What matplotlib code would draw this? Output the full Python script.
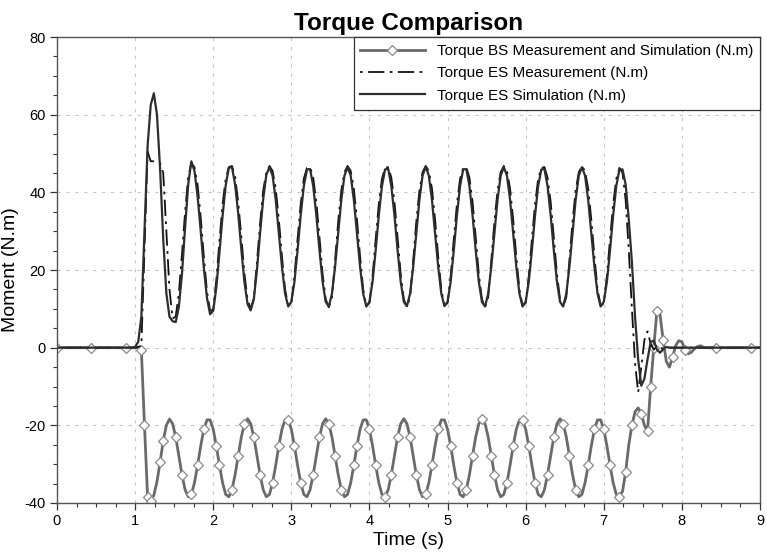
import numpy as np
import matplotlib
matplotlib.use("Agg")
import matplotlib.pyplot as plt
from matplotlib.ticker import MultipleLocator

plt.rcParams['font.family'] = ['Liberation Sans', 'DejaVu Sans']
plt.rcParams['axes.unicode_minus'] = False

# sample clock of the recordings (s), one row of values per second
time_s = np.arange(226) * 0.04

# Torque ES Simulation (N.m)
es_sim = [
    0, 0, 0, 0, 0, 0, 0, 0, 0, 0, 0, 0, 0, 0, 0, 0, 0, 0, 0, 0, 0, 0, 0, 0, 0,
    0.2, 1.5, 8.0, 30.0, 52.0, 62.5, 65.5, 60.0, 46.0, 28.0, 14.0, 8.0, 6.8, 6.6, 10.5, 19.0, 31.0, 42.0, 48.0, 45.5, 39.0, 30.0, 20.5, 12.8, 8.6,
    9.5, 15.5, 24.5, 34.0, 41.8, 46.3, 46.5, 42.0, 34.5, 25.3, 16.8, 11.2, 9.6, 12.5, 20.0, 29.5, 38.3, 44.5, 46.5, 44.3, 38.1, 29.6, 20.8, 13.9, 10.6,
    11.8, 17.0, 25.1, 34.1, 41.6, 45.9, 46.0, 41.6, 34.1, 25.1, 17.0, 11.8, 10.6, 13.9, 20.8, 29.6, 38.1, 44.3, 46.5, 44.3, 38.1, 29.6, 20.8, 13.9, 10.6,
    11.8, 17.0, 25.1, 34.1, 41.6, 45.9, 46.1, 41.6, 34.1, 25.1, 17.0, 11.8, 10.7, 13.9, 20.8, 29.6, 38.1, 44.3, 46.6, 44.3, 38.1, 29.6, 20.8, 13.9, 10.7,
    11.8, 17.0, 25.1, 34.1, 41.6, 45.9, 46.0, 41.6, 34.1, 25.1, 17.0, 11.8, 10.6, 13.9, 20.8, 29.6, 38.1, 44.3, 46.5, 44.3, 38.1, 29.6, 20.8, 13.9, 10.6,
    11.8, 17.0, 25.1, 34.1, 41.6, 45.9, 46.0, 41.6, 34.1, 25.1, 17.0, 11.8, 10.6, 13.9, 20.8, 29.6, 38.1, 44.3, 46.5, 44.3, 38.1, 29.6, 20.8, 13.9, 10.6,
    11.8, 17.0, 25.1, 34.1, 41.6, 45.9, 45.9, 42.0, 33.0, 22.0, 8.0, -3.0, -9.8, -8.0, -3.0, 1.5, 1.8, -0.5, -1.3, -0.4, 0.2, 0, 0, 0, 0,
    0, 0, 0, 0, 0, 0, 0, 0, 0, 0, 0, 0, 0, 0, 0, 0, 0, 0, 0, 0, 0, 0, 0, 0, 0,
    0,
]

# Torque ES Measurement (N.m)
es_meas = [
    0, 0, 0, 0, 0, 0, 0, 0, 0, 0, 0, 0, 0, 0, 0, 0, 0, 0, 0, 0, 0, 0, 0, 0, 0,
    0, 0.2, 0.5, 25.0, 50.5, 48.0, 48.0, 47.8, 47.5, 45.0, 30.0, 15.0, 7.5, 8.0, 14.0, 24.0, 35.0, 44.0, 47.5, 46.5, 42.0, 33.5, 23.5, 14.5, 9.5,
    9.8, 17.5, 27.5, 37.0, 43.5, 46.5, 46.8, 44.0, 37.5, 28.5, 19.0, 12.3, 10.0, 12.8, 22.0, 32.0, 40.5, 45.2, 46.8, 45.5, 41.0, 33.0, 23.5, 15.0, 10.8,
    11.5, 18.5, 28.0, 37.0, 43.5, 46.3, 46.5, 43.8, 37.5, 28.5, 19.0, 12.5, 10.4, 13.0, 22.5, 32.5, 40.5, 45.2, 46.8, 45.5, 41.0, 33.0, 23.5, 15.0, 10.8,
    11.5, 18.5, 28.0, 37.0, 43.5, 46.3, 46.5, 43.8, 37.5, 28.5, 19.0, 12.5, 10.4, 13.0, 22.5, 32.5, 40.5, 45.2, 46.8, 45.5, 41.0, 33.0, 23.5, 15.0, 10.8,
    11.5, 18.5, 28.0, 37.0, 43.5, 46.3, 46.5, 43.8, 37.5, 28.5, 19.0, 12.5, 10.4, 13.0, 22.5, 32.5, 40.5, 45.2, 46.8, 45.5, 41.0, 33.0, 23.5, 15.0, 10.8,
    11.5, 18.5, 28.0, 37.0, 43.5, 46.3, 46.5, 43.8, 37.5, 28.5, 19.0, 12.5, 10.4, 13.0, 22.5, 32.5, 40.5, 45.2, 46.8, 45.5, 41.0, 33.0, 23.5, 15.0, 10.8,
    11.5, 18.5, 28.0, 37.0, 43.5, 46.3, 45.0, 38.0, 25.0, 10.0, -4.0, -11.5, -5.0, 2.0, 4.2, 1.0, -0.5, 0.3, 0, -0.3, 0.2, 0, 0, 0, 0,
    0, 0, 0, 0, 0, 0, 0, 0, 0, 0, 0, 0, 0, 0, 0, 0, 0, 0, 0, 0, 0, 0, 0, 0, 0,
    0,
]

# Torque BS Measurement and Simulation (N.m)
bs = [
    0, 0, 0, 0, 0, 0, 0, 0, 0, 0, 0, 0, 0, 0, 0, 0, 0, 0, 0, 0, 0, 0, 0, 0, 0,
    0, 0, -0.5, -20.0, -38.5, -39.5, -38.0, -34.5, -29.5, -24.0, -20.0, -18.4, -19.6, -23.0, -27.8, -32.7, -36.6, -38.4, -37.8, -34.8, -30.3, -25.3, -21.0, -18.6, -18.6,
    -21.0, -25.3, -30.3, -34.8, -37.8, -38.4, -36.6, -32.7, -27.8, -23.0, -19.6, -18.3, -19.6, -23.0, -27.8, -32.7, -36.6, -38.4, -37.8, -34.8, -30.3, -25.3, -21.0, -18.6, -18.6,
    -21.0, -25.3, -30.3, -34.8, -37.8, -38.4, -36.6, -32.7, -27.8, -23.0, -19.6, -18.3, -19.6, -23.0, -27.8, -32.7, -36.6, -38.4, -37.8, -34.8, -30.3, -25.3, -21.0, -18.6, -18.6,
    -21.0, -25.3, -30.3, -34.8, -37.8, -38.4, -36.6, -32.7, -27.8, -23.0, -19.6, -18.3, -19.6, -23.0, -27.8, -32.7, -36.6, -38.4, -37.8, -34.8, -30.3, -25.3, -21.0, -18.6, -18.6,
    -21.0, -25.3, -30.3, -34.8, -37.8, -38.4, -36.6, -32.7, -27.8, -23.0, -19.6, -18.3, -19.6, -23.0, -27.8, -32.7, -36.6, -38.4, -37.8, -34.8, -30.3, -25.3, -21.0, -18.6, -18.6,
    -21.0, -25.3, -30.3, -34.8, -37.8, -38.4, -36.6, -32.7, -27.8, -23.0, -19.6, -18.3, -19.6, -23.0, -27.8, -32.7, -36.6, -38.4, -37.8, -34.8, -30.3, -25.3, -21.0, -18.6, -18.6,
    -21.0, -25.3, -30.3, -34.8, -37.8, -38.4, -37.0, -32.0, -25.0, -20.0, -16.5, -15.5, -17.0, -20.0, -21.5, -10.0, 0.0, 9.5, 8.5, 2.0, -3.5, -5.0, -2.5, 0.5, 1.8,
    1.5, -0.5, -1.6, -1.2, -0.3, 0.3, 0.5, 0, 0, 0, 0, 0, 0, 0, 0, 0, 0, 0, 0, 0, 0, 0, 0, 0, 0,
    0,
]

fig = plt.figure(figsize=(7.67, 5.55), dpi=100)
ax = fig.add_axes([0.0743, 0.0937, 0.9166, 0.8396])

ax.plot(time_s, bs, color='#6a6a6a', lw=2.0, marker='D', markersize=5.5,
        markerfacecolor='white', markeredgecolor='#8a8a8a', markeredgewidth=0.9,
        markevery=0.04, label='Torque BS Measurement and Simulation (N.m)')
ax.plot(time_s, es_meas, color='#111111', lw=1.3, linestyle=(0, (1.5, 3, 9, 3)),
        label='Torque ES Measurement (N.m)')
ax.plot(time_s, es_sim, color='#2e2e2e', lw=1.6, label='Torque ES Simulation (N.m)')

ax.set_xlim(0, 9)
ax.set_ylim(-40, 80)
ax.xaxis.set_major_locator(MultipleLocator(1))
ax.xaxis.set_minor_locator(MultipleLocator(0.25))
ax.yaxis.set_major_locator(MultipleLocator(20))
ax.yaxis.set_minor_locator(MultipleLocator(5))
ax.tick_params(which='major', direction='out', length=5, width=0.9, labelsize=10.5,
               colors='#333333', pad=3)
ax.tick_params(which='minor', direction='out', length=3, width=0.8, colors='#333333')
ax.tick_params(labelcolor='black')
ax.grid(True, which='major', linestyle=(0, (3, 5)), color='#c8c8c8', lw=0.8)
for s in ax.spines.values():
    s.set_color('#555555')
    s.set_linewidth(1.0)

ax.set_title('Torque Comparison', fontsize=17.5, fontweight='bold', pad=5)
ax.set_xlabel('Time (s)', fontsize=14, labelpad=3)
ax.set_ylabel('Moment (N.m)', fontsize=14, labelpad=4)

leg = ax.legend(loc='upper right', borderaxespad=0, fontsize=11, fancybox=False,
                framealpha=1, edgecolor='#333333', handlelength=4.2,
                labelspacing=0.55, borderpad=0.45)
leg.get_frame().set_linewidth(0.9)

fig.savefig('out.png', dpi=100)
